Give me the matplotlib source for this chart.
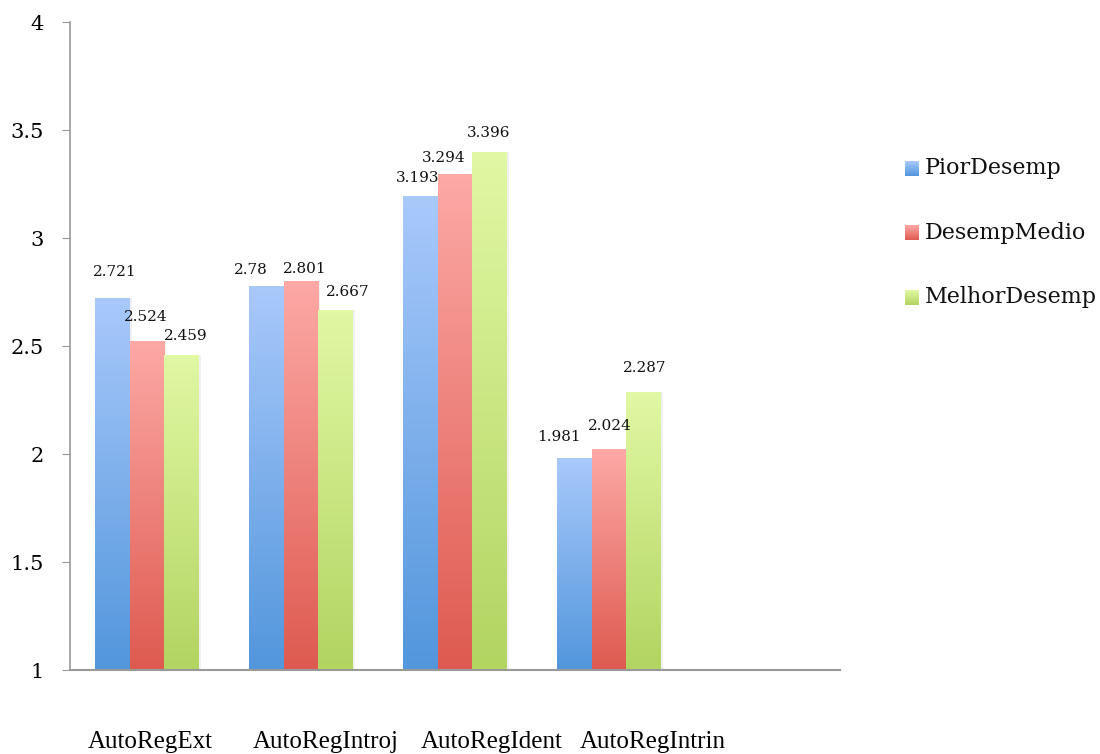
import numpy as np
import matplotlib.pyplot as plt
from matplotlib.colors import LinearSegmentedColormap
from matplotlib.patches import Rectangle
from matplotlib.transforms import ScaledTranslation

# categorias e valores
categorias = ["AutoRegExt", "AutoRegIntroj", "AutoRegIdent", "AutoRegIntrin"]
series = ["PiorDesemp", "DesempMedio", "MelhorDesemp"]
pior = [2.721, 2.78, 3.193, 1.981]
medio = [2.524, 2.801, 3.294, 2.024]
melhor = [2.459, 2.667, 3.396, 2.287]
valores = [pior, medio, melhor]

# cores do degradê (topo, base)
cores = [("#A9C9FB", "#5296DC"), ("#FDA9A6", "#DE5A50"), ("#E1F8A4", "#B2D461")]

# posição dos rótulos de valor (pixels relativos ao topo da barra)
rotulo_dx = [[2, -16, -3, -16],
             [-1, 4, -11, 1],
             [4, 12, -1, 1]]
rotulo_dy = [[26, 16, 18, 21],
             [24, 12, 16, 23],
             [19, 18, 19, 24]]
# ajuste horizontal dos nomes das categorias (pixels)
cat_dx = [3, 25, 37, 44]

fig = plt.figure(figsize=(11, 7.54), dpi=100)
ax = fig.add_axes([70 / 1100, 1 - 670 / 754, 770 / 1100, 648 / 754])

ax.set_xlim(-0.5, 4.5)
ax.set_ylim(1, 4)
largura = 0.224
base = 1

x = np.arange(len(categorias))
for i, vals in enumerate(valores):
    cmap = LinearSegmentedColormap.from_list(series[i], [cores[i][1], cores[i][0]])
    grad = np.linspace(0, 1, 256).reshape(-1, 1)
    for j, v in enumerate(vals):
        x0 = x[j] + (i - 1) * largura - largura / 2
        # sombra leve
        sombra = Rectangle((x0 + 0.012, base), largura, v - base, facecolor="#000000",
                           alpha=0.06, edgecolor="none", zorder=1)
        ax.add_patch(sombra)
        rect = Rectangle((x0, base), largura, v - base, facecolor="none", edgecolor="none")
        ax.add_patch(rect)
        im = ax.imshow(grad, cmap=cmap, origin="lower", aspect="auto",
                       extent=[x0, x0 + largura, base, v], zorder=2)
        im.set_clip_path(rect)
        ax.annotate(f"{v:g}", (x0 + largura / 2, v),
                    xytext=(rotulo_dx[i][j], rotulo_dy[i][j]),
                    textcoords="offset pixels", ha="center", va="center",
                    fontsize=11, family="DejaVu Serif", color="#111111")

ax.set_xlim(-0.5, 4.5)
ax.set_ylim(1, 4)

for s in ["top", "right"]:
    ax.spines[s].set_visible(False)
ax.spines["left"].set_color("#999999")
ax.spines["bottom"].set_color("#999999")
ax.spines["left"].set_linewidth(1.2)
ax.spines["bottom"].set_linewidth(1.5)

ax.set_yticks(np.arange(1, 4.01, 0.5))
ax.set_yticklabels(["1", "1.5", "2", "2.5", "3", "3.5", "4"],
                   fontsize=15, family="DejaVu Serif")
ax.tick_params(axis="y", length=5.8, color="#999999", pad=13)
ax.set_xticks(x)
ax.set_xticklabels(categorias, fontsize=18, family="Liberation Serif")
ax.tick_params(axis="x", length=0, pad=44)
for lbl, d in zip(ax.get_xticklabels(), cat_dx):
    lbl.set_transform(lbl.get_transform() + ScaledTranslation(d / 100, 0, fig.dpi_scale_trans))

# legenda com quadrados em degradê
for i, nome in enumerate(series):
    yc = 1 - (168 + i * 64.5) / 754
    lax = fig.add_axes([905 / 1100, yc - 7.5 / 754, 14 / 1100, 15 / 754])
    cmap = LinearSegmentedColormap.from_list(nome, [cores[i][1], cores[i][0]])
    lax.imshow(np.linspace(0, 1, 64).reshape(-1, 1), cmap=cmap, origin="lower", aspect="auto")
    lax.axis("off")
    fig.text(925 / 1100, yc, nome, fontsize=16, family="DejaVu Serif",
             va="center", ha="left", color="#111111")

fig.savefig("out.png", dpi=100)
